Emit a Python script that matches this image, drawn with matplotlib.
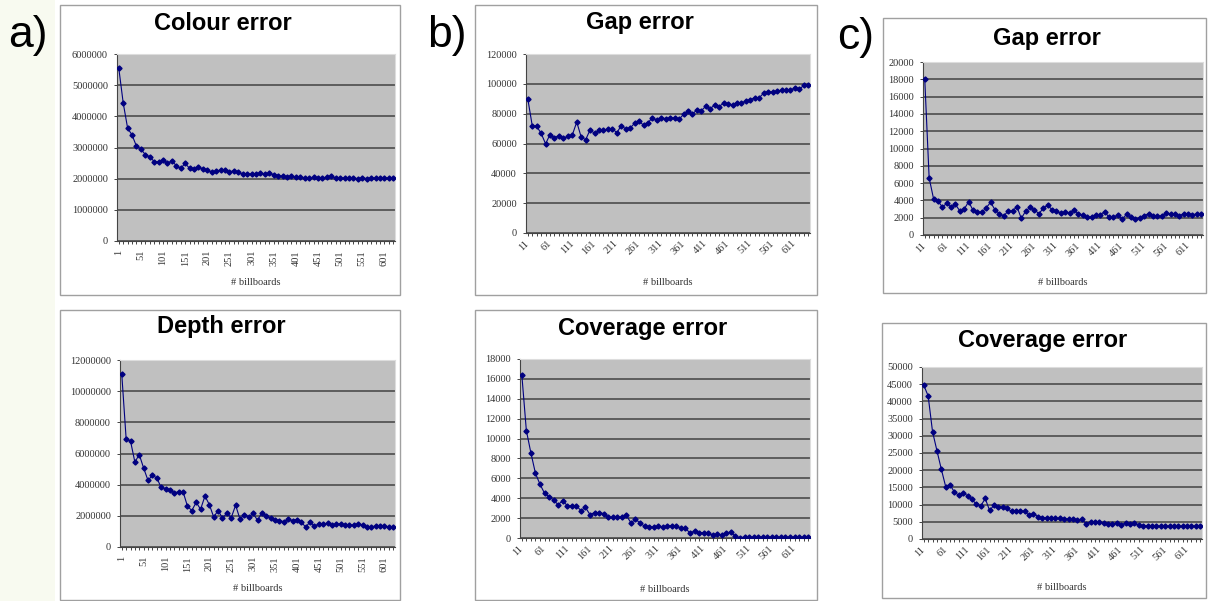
import numpy as np
import matplotlib
matplotlib.use("Agg")
import matplotlib.pyplot as plt
from matplotlib.patches import Rectangle
from matplotlib.ticker import FuncFormatter

W, H = 1208, 601

# x categories (# billboards)
x_a = np.arange(1, 622, 10)     # 1 .. 621
x_bc = np.arange(11, 642, 10)   # 11 .. 641

# a) values in millions
colour_err = np.array([
    5.55, 4.43, 3.62, 3.40, 3.04, 2.95, 2.77, 2.70, 2.55, 2.54,
    2.60, 2.49, 2.58, 2.41, 2.33, 2.49, 2.33, 2.32, 2.36, 2.32,
    2.27, 2.20, 2.25, 2.27, 2.27, 2.22, 2.25, 2.20, 2.15, 2.15,
    2.15, 2.14, 2.17, 2.15, 2.17, 2.13, 2.10, 2.07, 2.06, 2.07,
    2.04, 2.05, 2.03, 2.02, 2.04, 2.03, 2.02, 2.05, 2.07, 2.02,
    2.02, 2.02, 2.03, 2.02, 2.00, 2.03, 2.00, 2.02, 2.02, 2.02,
    2.02, 2.02, 2.02]) * 1e6

depth_err = np.array([
    11.10, 6.95, 6.80, 5.45, 5.93, 5.06, 4.27, 4.60, 4.43, 3.82,
    3.75, 3.67, 3.47, 3.55, 3.55, 2.62, 2.34, 2.87, 2.42, 3.27,
    2.72, 1.92, 2.34, 1.86, 2.16, 1.88, 2.68, 1.79, 2.07, 1.94,
    2.15, 1.72, 2.19, 2.02, 1.83, 1.74, 1.70, 1.62, 1.78, 1.70,
    1.76, 1.60, 1.28, 1.60, 1.34, 1.48, 1.46, 1.52, 1.39, 1.46,
    1.50, 1.39, 1.41, 1.39, 1.50, 1.41, 1.30, 1.30, 1.34, 1.34,
    1.34, 1.30, 1.30]) * 1e6

# b)
gap_err_b = [
    90000, 72000, 71500, 66800, 59800, 66000, 64000, 65200, 63500, 64800,
    65700, 74400, 64300, 62500, 69200, 66800, 68800, 68800, 69400, 70000,
    67200, 72000, 69700, 70400, 73500, 75000, 72300, 73900, 77300, 75500,
    77300, 76600, 77100, 77100, 76200, 79600, 81600, 79600, 82700, 82000,
    85000, 83200, 86100, 84700, 87200, 86500, 85800, 87400, 87400, 88300,
    89400, 90700, 90700, 93800, 94700, 94300, 94900, 95600, 95600, 95600,
    97500, 96400, 98900, 98900]

cov_err_b = [
    16400, 10800, 8550, 6500, 5400, 4500, 4150, 3800, 3350, 3750,
    3250, 3250, 3250, 2750, 3080, 2350, 2550, 2550, 2450, 2070,
    2070, 2100, 2100, 2270, 1530, 1870, 1530, 1180, 1150, 1080,
    1180, 1080, 1210, 1250, 1180, 980, 980, 500, 700, 540,
    540, 470, 300, 370, 330, 540, 570, 170, 30, 80,
    100, 60, 80, 80, 60, 80, 80, 60, 80, 60,
    80, 60, 60, 60]

# c)
gap_err_c = [
    18000, 6600, 4200, 3950, 3230, 3650, 3230, 3540, 2770, 3000,
    3850, 2850, 2620, 2620, 3150, 3770, 2920, 2460, 2200, 2770,
    2770, 3270, 1920, 2770, 3190, 2920, 2460, 3080, 3460, 2920,
    2730, 2500, 2620, 2580, 2920, 2420, 2310, 2040, 2120, 2310,
    2350, 2700, 2040, 2080, 2310, 1850, 2390, 2040, 1850, 2000,
    2230, 2460, 2150, 2150, 2200, 2540, 2420, 2390, 2230, 2460,
    2420, 2350, 2420, 2420]

cov_err_c = [
    44700, 41600, 31200, 25700, 20300, 15200, 15700, 13600, 12700, 13500,
    12500, 11500, 10100, 9600, 11800, 8300, 9800, 9400, 9200, 8900,
    8000, 8200, 8100, 8000, 6900, 7400, 6500, 6200, 6200, 6100,
    6000, 6000, 5900, 5800, 5800, 5600, 5700, 4500, 4900, 4800,
    4800, 4700, 4500, 4300, 4600, 4200, 4600, 4400, 4600, 4000,
    3700, 3900, 3700, 3700, 3700, 3700, 3700, 3700, 3700, 3700,
    3700, 3700, 3700, 3700]

fig = plt.figure(figsize=(W / 100, H / 100), dpi=100)
fig.patch.set_facecolor("white")

# pale strip on the left edge
fig.patches.append(Rectangle((0, 0), 55 / W, 1, transform=fig.transFigure,
                             facecolor="#f8faf0", edgecolor="none", zorder=0))

serif = "Liberation Serif"
sans = "Liberation Sans"


def frame(x0, y0, x1, y1):
    fig.patches.append(Rectangle((x0 / W, 1 - y1 / H), (x1 - x0) / W, (y1 - y0) / H,
                                 transform=fig.transFigure, facecolor="none",
                                 edgecolor="#a0a0a0", lw=1.0, zorder=1))


def panel(box, title, title_xy, x, y, ymax, ystep, rot, xlab_off):
    l, t, r, b = box
    ax = fig.add_axes([l / W, 1 - b / H, (r - l) / W, (b - t) / H])
    ax.set_facecolor("#c0c0c0")
    ax.plot(x, y, color="#000080", lw=0.8, marker="D", ms=2.6, zorder=3)
    ax.set_ylim(0, ymax)
    ax.set_yticks(np.arange(0, ymax + 1, ystep))
    ax.yaxis.set_major_formatter(FuncFormatter(lambda v, p: "%d" % v))
    ax.yaxis.grid(True, color="#555555", lw=1.3)
    ax.get_ygridlines()[-1].set_visible(False)
    ax.set_axisbelow(True)
    ax.set_xlim(x[0] - 4, x[-1] + 4)
    ax.set_xticks(x[::5])
    ax.set_xticks(x, minor=True)
    if rot == 90:
        ax.set_xticklabels([str(v) for v in x[::5]], rotation=90, ha="center", va="top")
    else:
        ax.set_xticklabels([str(v) for v in x[::5]], rotation=45, ha="right",
                           va="center", rotation_mode="anchor")
    ax.tick_params(axis="x", which="both", direction="out", length=2.5, width=0.7,
                   color="#444444", labelsize=7.5, labelcolor="#333333", pad=4)
    ax.tick_params(axis="y", direction="out", length=2.5, width=0.7,
                   color="#444444", labelsize=7.5, labelcolor="#333333", pad=4)
    for lab in ax.get_xticklabels() + ax.get_yticklabels():
        lab.set_family(serif)
    for s in ["left", "bottom"]:
        ax.spines[s].set_color("#444444")
        ax.spines[s].set_linewidth(0.8)
    for s in ["top", "right"]:
        ax.spines[s].set_color("#dddddd")
        ax.spines[s].set_linewidth(0.8)
    ax.set_xlabel("# billboards", family=serif, fontsize=7.5, color="#333333")
    ax.xaxis.set_label_coords(0.5, -xlab_off)
    fig.text(title_xy[0] / W, 1 - title_xy[1] / H, title, ha="center", va="center",
             family=sans, fontweight="bold", fontsize=17)
    return ax


# frames around each chart
frame(60, 5, 400, 295)
frame(60, 310, 400, 600)
frame(475, 5, 817, 295)
frame(475, 310, 817, 600)
frame(883, 18, 1206, 293)
frame(882, 323, 1206, 598)

panel((117, 54, 395, 241), "Colour error", (223, 23), x_a, colour_err, 6000000, 1000000, 90, 0.20)
panel((120, 360, 395, 547), "Depth error", (221, 326), x_a, depth_err, 12000000, 2000000, 90, 0.20)
panel((526, 54, 810, 233), "Gap error", (640, 23), x_bc, gap_err_b, 120000, 20000, 45, 0.25)
panel((520, 359, 810, 538), "Coverage error", (643, 328), x_bc, cov_err_b, 18000, 2000, 45, 0.26)
panel((923, 62, 1203, 235), "Gap error", (1047, 38), x_bc, gap_err_c, 20000, 2000, 45, 0.25)
panel((922, 367, 1202, 539), "Coverage error", (1043, 340), x_bc, cov_err_c, 50000, 5000, 45, 0.255)

# panel letters
for lab, px, py in [("a)", 8, 35), ("b)", 427, 35), ("c)", 837, 38)]:
    fig.text(px / W, 1 - py / H, lab, ha="left", va="center", family=sans, fontsize=32)

fig.savefig("out.png", dpi=100)
